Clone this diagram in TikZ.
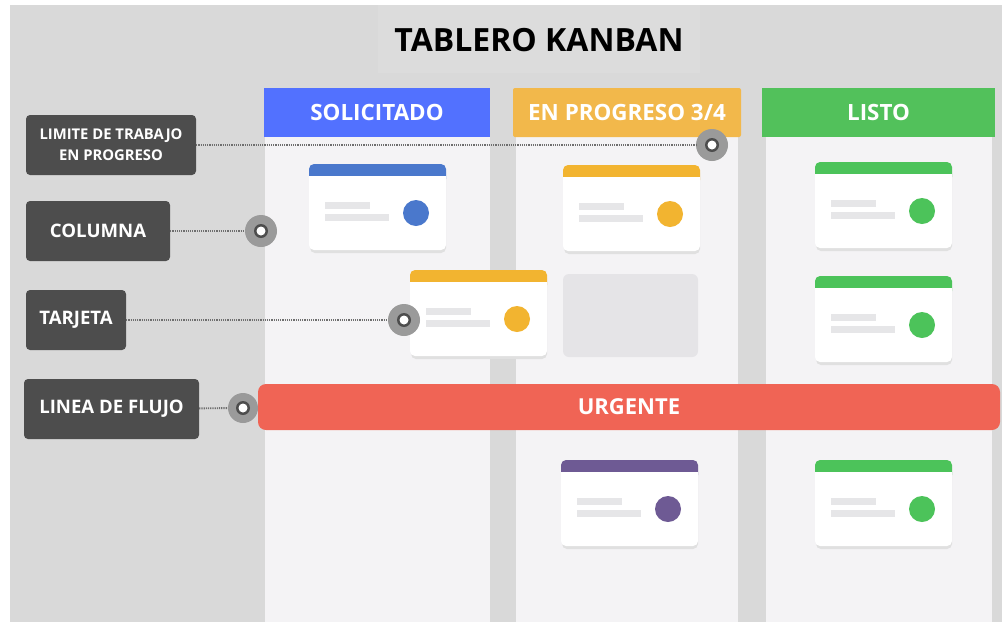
\documentclass[tikz,border=0pt]{standalone}
\usepackage{fontspec}
\setmainfont{Open Sans}
\definecolor{fondo}{HTML}{D9D9D9}
\definecolor{fondotitulo}{HTML}{DCDCDC}
\definecolor{columna}{HTML}{F4F3F5}
\definecolor{azul}{HTML}{5271FF}
\definecolor{naranja}{HTML}{F2B84B}
\definecolor{verde}{HTML}{52C15B}
\definecolor{azultarjeta}{HTML}{4A78CC}
\definecolor{amarillo}{HTML}{F2B430}
\definecolor{morado}{HTML}{6E5A94}
\definecolor{verdetarjeta}{HTML}{4CC35A}
\definecolor{rojo}{HTML}{F06455}
\definecolor{etiqueta}{HTML}{4D4D4D}
\definecolor{barragris}{HTML}{E6E6E8}
\definecolor{hueco}{HTML}{E5E4E7}
\definecolor{marca}{HTML}{9A9A9A}
\definecolor{punteado}{HTML}{6E6E6E}
\newcommand{\tarjeta}[4]{%
  \begin{scope}[shift={(#2,#3)}]
    \fill[black!12,rounded corners=5pt] (1,3) rectangle (137,89);
    \fill[white,rounded corners=5pt] (0,0) rectangle (137,86);
    \fill[#4,rounded corners=5pt] (0,0) rectangle (137,20);
    \fill[white] (0,12) rectangle (137,21);
    \fill[barragris] (16,38) rectangle (61,45);
    \fill[barragris] (16,50) rectangle (80,57);
    \fill[#4] (107,49) circle (13pt);
    \coordinate (#1) at (68.5,43);
  \end{scope}}

\begin{document}
\begin{tikzpicture}[x=1pt,y=-1pt,
    lbl/.style={fill=etiqueta,rounded corners=4pt,text=white,align=center,minimum height=60pt,inner sep=0pt,font=\bfseries\fontsize{18.6}{22}\selectfont},
    hdr/.style={text=white,minimum height=49pt,inner sep=0pt,font=\bfseries\fontsize{22.4}{26}\selectfont},
    marker/.style={circle,fill=marca,minimum size=32pt,inner sep=0pt},
    dotline/.style={punteado,line width=1.9pt,dash pattern=on 1.2pt off 1pt}]
    \useasboundingbox (0,0) rectangle (1002,622);
    \fill[fondo] (10,5) rectangle (1002,622);
    \fill[fondotitulo] (378,5) rectangle (700,73);
    \node[font=\bfseries\fontsize{32}{38}\selectfont] (titulo) at (539,40) {TABLERO KANBAN};

    \fill[columna] (265,137) rectangle (490,622);
    \fill[columna] (516,137) rectangle (738,622);
    \fill[columna] (766,137) rectangle (992,622);
    \node[hdr,fill=azul,minimum width=226pt] (solicitado) at (377,112.5) {SOLICITADO};
    \node[hdr,fill=naranja,minimum width=228pt,rounded corners=2pt] (progreso) at (627,112.5) {EN PROGRESO 3/4};
    \node[hdr,fill=verde,minimum width=233pt] (listo) at (878.5,112.5) {LISTO};

    \tarjeta{t1}{309}{164}{azultarjeta}
    \tarjeta{t2}{563}{165}{amarillo}
    \fill[hueco,rounded corners=6pt] (563,274) rectangle (698,357);
    \tarjeta{t3}{410}{270}{amarillo}
    \tarjeta{t4}{561}{460}{morado}
    \tarjeta{t5}{815}{162}{verdetarjeta}
    \tarjeta{t6}{815}{276}{verdetarjeta}
    \tarjeta{t7}{815}{460}{verdetarjeta}

    \node[fill=rojo,rounded corners=8pt,minimum width=742pt,minimum height=46pt,inner sep=0pt,text=white,font=\bfseries\fontsize{22}{26}\selectfont] (urgente) at (629,407) {URGENTE};

    \node[lbl,minimum width=170pt,font=\bfseries\fontsize{14.8}{21}\selectfont] (lblwip) at (111,145) {LIMITE DE TRABAJO\\EN PROGRESO};
    \node[lbl,minimum width=144pt] (lblcol) at (98,231) {COLUMNA};
    \node[lbl,minimum width=100pt] (lbltar) at (76,320) {TARJETA};
    \node[lbl,minimum width=175pt] (lblflujo) at (111.5,409) {LINEA DE FLUJO};

    \node[marker] (mwip) at (712,145) {};
    \node[marker] (mcol) at (261,231) {};
    \node[marker] (mtar) at (404,320) {};
    \node[marker,minimum size=30pt] (mflujo) at (243,408) {};
    \foreach \m in {mwip,mcol,mtar,mflujo}{
      \fill[etiqueta] (\m) circle (7pt);
      \fill[white] (\m) circle (4.5pt);
    }

    \draw[dotline] (lblwip) -- (mwip);
    \draw[dotline] (lblcol) -- (mcol);
    \draw[dotline] (lbltar) -- (mtar);
    \draw[dotline] (lblflujo) -- (mflujo);
\end{tikzpicture}
\end{document}
